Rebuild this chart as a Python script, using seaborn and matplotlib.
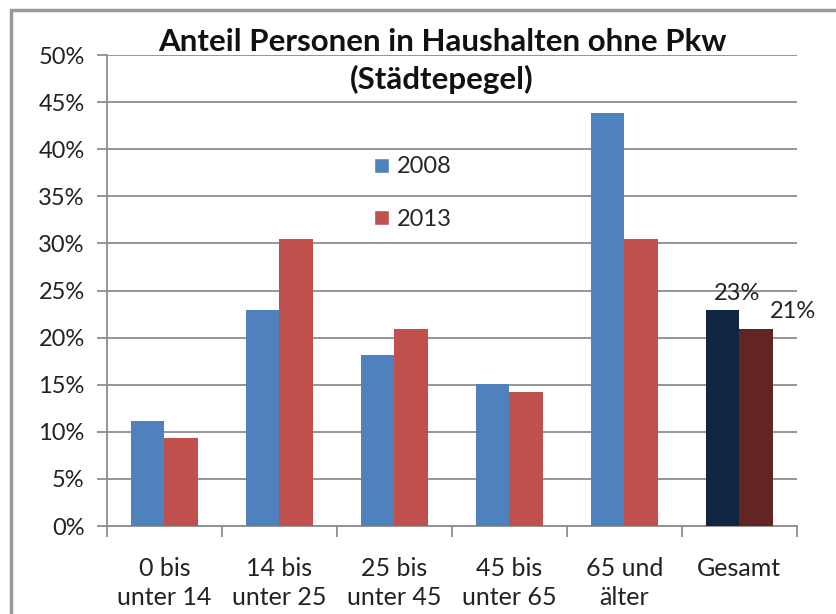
import matplotlib
matplotlib.use("Agg")
import matplotlib.pyplot as plt
import seaborn as sns
import pandas as pd
import numpy as np
from matplotlib.patches import Rectangle
from matplotlib.ticker import FixedLocator, PercentFormatter

categories = ["0 bis\nunter 14", "14 bis\nunter 25", "25 bis\nunter 45",
              "45 bis\nunter 65", "65 und\nälter", "Gesamt"]
values_2008 = [11.1, 22.9, 18.2, 15.1, 43.8, 22.9]
values_2013 = [9.3, 30.5, 20.9, 14.2, 30.5, 20.9]
years = ["2008", "2013"]
title = "Anteil Personen in Haushalten ohne Pkw\n(Städtepegel)"
gesamt_labels = ["23%", "21%"]

df = pd.DataFrame({
    "Kategorie": categories * 2,
    "Wert": values_2008 + values_2013,
    "Jahr": [years[0]] * len(categories) + [years[1]] * len(categories),
})

sns.set_theme(style="white")
plt.rcParams["font.family"] = ["Lato", "DejaVu Sans"]

fig = plt.figure(figsize=(8.37, 6.14), dpi=100)
ax = fig.add_axes([0.1278, 0.1433, 0.952 - 0.1278, 0.9104 - 0.1433])

palette = {"2008": "#4F81BD", "2013": "#C0504D"}
sns.barplot(data=df, x="Kategorie", y="Wert", hue="Jahr", palette=palette,
            width=0.58, saturation=1, ax=ax, zorder=3, legend=True)

# recolour Gesamt bars (darker)
dark = {"2008": "#10253F", "2013": "#632523"}
for cont, yr in zip(ax.containers, years):
    cont.patches[-1].set_facecolor(dark[yr])
    for p in cont.patches:
        p.set_edgecolor("none")

ax.set_ylim(0, 50)
ax.set_xlim(-0.5, len(categories) - 0.5)
ax.yaxis.set_major_locator(FixedLocator(np.arange(0, 51, 5)))
ax.yaxis.set_major_formatter(PercentFormatter(decimals=0))
ax.grid(axis="y", color="#8c8c8c", linewidth=1.3, zorder=0)
ax.set_axisbelow(True)
ax.set_xlabel("")
ax.set_ylabel("")

for s in ["top", "right"]:
    ax.spines[s].set_visible(False)
for s in ["left", "bottom"]:
    ax.spines[s].set_color("#8c8c8c")
    ax.spines[s].set_linewidth(1.3)

ax.tick_params(axis="y", which="major", length=7, color="#8c8c8c", width=1.3,
               labelsize=17, labelcolor="#222222", pad=9, left=True)
ax.tick_params(axis="x", which="major", length=0, labelsize=18,
               labelcolor="#222222", pad=22)
ax.xaxis.set_minor_locator(FixedLocator(np.arange(-0.5, len(categories), 1.0)))
ax.tick_params(axis="x", which="minor", length=8, color="#8c8c8c", width=1.3,
               bottom=True)
for lbl in ax.get_xticklabels():
    lbl.set_linespacing(1.35)

leg = ax.legend(loc="upper left", bbox_to_anchor=(0.357, 0.83), frameon=False,
                fontsize=17, handlelength=0.6, handleheight=0.6,
                handletextpad=0.35, labelspacing=1.35)

# labels on Gesamt
ax.text(5 - 0.02, values_2008[-1] + 0.7, gesamt_labels[0], ha="center",
        va="bottom", fontsize=17, color="#222222")
ax.text(5 + 0.47, values_2013[-1] + 0.8, gesamt_labels[1], ha="center",
        va="bottom", fontsize=17, color="#222222")

fig.text(0.528, 0.955, title, ha="center", va="top", fontsize=22.5,
         fontweight="bold", linespacing=1.4, color="#111111")

# outer frame
fig.patches.append(Rectangle((11 / 837, -0.1), 2.0, 1.1 - 10 / 614,
                             transform=fig.transFigure, fill=False,
                             edgecolor="#9a9a9a", linewidth=2.5))

fig.savefig("out.png", dpi=100)
